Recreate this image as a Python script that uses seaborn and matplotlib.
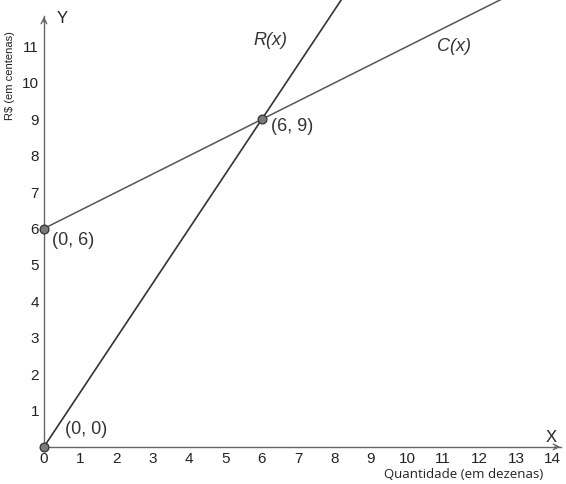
import matplotlib
matplotlib.use("Agg")
import matplotlib.pyplot as plt
import seaborn as sns
import pandas as pd

# lines (two or three points each, clipped by the axes)
r_x = [0, 6, 9]
r_y = [0, 9, 13.5]
c_x = [0, 6, 14]
c_y = [6, 9, 13]

# marked points
pt_x = [0, 0, 6]
pt_y = [0, 6, 9]
pt_labels = ["(0, 0)", "(0, 6)", "(6, 9)"]

x_ticks = list(range(0, 15))
y_ticks = list(range(1, 12))

sns.set_style("white")
plt.rcParams["font.family"] = ["Liberation Sans", "DejaVu Sans"]

fig = plt.figure(figsize=(5.66, 4.84), dpi=100)
ax = fig.add_axes([0, 0, 1, 1])

axis_col = "#666666"

sns.lineplot(x=r_x, y=r_y, ax=ax, color="#333333", lw=1.2)
sns.lineplot(x=c_x, y=c_y, ax=ax, color="#555555", lw=1.1)

pts = pd.DataFrame({"x": pt_x, "y": pt_y})
sns.scatterplot(data=pts, x="x", y="y", ax=ax, s=40, color="#7a7a7a",
                edgecolor="#333333", linewidth=0.9, zorder=5, clip_on=False)

ax.set_xlim(-1.21, 14.38)
ax.set_ylim(-1.02, 12.28)
ax.set_xlabel("")
ax.set_ylabel("")

for side in ["top", "right"]:
    ax.spines[side].set_visible(False)
ax.spines["left"].set_position(("data", 0))
ax.spines["bottom"].set_position(("data", 0))
ax.spines["left"].set_bounds(0, 11.85)
ax.spines["bottom"].set_bounds(0, 14.25)
for side in ["left", "bottom"]:
    ax.spines[side].set_color(axis_col)
    ax.spines[side].set_linewidth(1.0)

# arrow heads
ax.annotate("", xy=(0, 11.9), xytext=(0, 11.6),
            arrowprops=dict(arrowstyle="->", color=axis_col, lw=1.0))
ax.annotate("", xy=(14.3, 0), xytext=(14.0, 0),
            arrowprops=dict(arrowstyle="->", color=axis_col, lw=1.0))

ax.set_xticks(x_ticks)
ax.set_yticks(y_ticks)
ax.tick_params(axis="both", direction="inout", length=3, width=0.8,
               color=axis_col, labelsize=11, labelcolor="#222222", pad=2)
ax.grid(False)

offsets = [(0.58, 0.47), (0.22, -0.34), (0.25, -0.2)]
for (dx, dy), px, py, lab in zip(offsets, pt_x, pt_y, pt_labels):
    ax.text(px + dx, py + dy, lab, fontsize=13, color="#333333",
            ha="left", va="center")

ax.text(5.76, 11.18, "R(x)", fontsize=13, style="italic", color="#333333",
        ha="left", va="center")
ax.text(10.83, 11.0, "C(x)", fontsize=13, style="italic", color="#333333",
        ha="left", va="center")

ax.text(0.5, 11.78, "Y", fontsize=12, color="#222222", ha="center", va="center")
ax.text(13.98, 0.26, "X", fontsize=12, color="#222222", ha="center", va="center")

ax.text(-0.94, 10.2, "R$ (em centenas)", fontsize=8, rotation=90,
        color="#222222", ha="center", va="center")
ax.text(11.57, -0.77, "Quantidade (em dezenas)", fontsize=9.5,
        family=["Open Sans", "DejaVu Sans"], color="#222222",
        ha="center", va="center")

fig.savefig("out.png", dpi=100)
